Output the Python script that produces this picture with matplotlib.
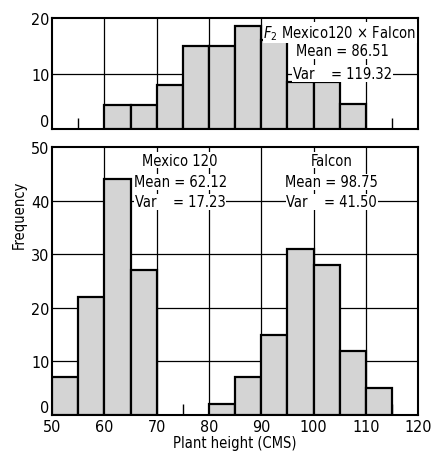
import numpy as np
import matplotlib
matplotlib.use('Agg')
import matplotlib.pyplot as plt

plt.rcParams['font.family'] = ['DejaVu Sans']
plt.rcParams['font.stretch'] = 'condensed'

# F2 Mexico 120 x Falcon
f2_edges = [60, 65, 70, 75, 80, 85, 90, 95, 100, 105, 110]
f2_counts = [4.3, 4.3, 8, 15, 15, 18.5, 16, 8.4, 8.4, 4.5]

# parents
mex_edges = [50, 55, 60, 65, 70]
mex_counts = [7, 22, 44, 27]
fal_edges = [80, 85, 90, 95, 100, 105, 110, 115]
fal_counts = [2, 7, 15, 31, 28, 12, 5]

bar_face = '#d4d4d4'
box = dict(facecolor='white', edgecolor='none', pad=0.5)
fs = 10.5


def draw_bars(ax, edges, counts):
    ax.bar(edges[:-1], counts, width=np.diff(edges), align='edge',
           color=bar_face, edgecolor='black', linewidth=1.6, zorder=3)


def style(ax):
    for s in ax.spines.values():
        s.set_linewidth(1.5)
    ax.set_xlim(50, 120)
    ax.set_xticks(np.arange(50, 121, 10))
    ax.set_xticks(np.arange(55, 120, 10), minor=True)
    ax.tick_params(axis='x', which='minor', direction='in', length=8, width=1)
    ax.tick_params(axis='x', which='major', direction='in', length=0)
    ax.tick_params(axis='y', direction='in', length=0, labelsize=fs + 1, pad=2)
    for v in [60, 70, 80, 90, 100, 110]:
        ax.axvline(v, color='black', lw=0.9, zorder=1)


fig = plt.figure(figsize=(4.35, 4.56), dpi=100)
ax1 = fig.add_axes([0.12, 0.715, 0.841, 0.243])
ax2 = fig.add_axes([0.12, 0.088, 0.841, 0.587])

# top panel
style(ax1)
ax1.set_ylim(0, 20)
ax1.set_yticks([0, 10, 20])
ax1.set_xticklabels([])
ax1.axhline(10, color='black', lw=0.9, zorder=1)
draw_bars(ax1, f2_edges, f2_counts)
ax1.text(105, 17.4, r'$F_2$ Mexico120 × Falcon', ha='center', va='center',
         fontsize=fs, bbox=box, zorder=5)
ax1.text(105.5, 14.2, 'Mean = 86.51', ha='center', va='center',
         fontsize=fs, bbox=box, zorder=5)
ax1.text(105.5, 10.0, 'Var    = 119.32', ha='center', va='center',
         fontsize=fs, bbox=box, zorder=5)

# bottom panel
style(ax2)
ax2.set_ylim(0, 50)
ax2.set_yticks([0, 10, 20, 30, 40, 50])
for v in [10, 20, 30, 40]:
    ax2.axhline(v, color='black', lw=0.9, zorder=1)
draw_bars(ax2, mex_edges, mex_counts)
draw_bars(ax2, fal_edges, fal_counts)
ax2.tick_params(axis='x', labelsize=fs + 1, pad=3)

# the zero labels sit a little above the baseline, as in the original
for ax in (ax1, ax2):
    ax.get_yticklabels()[0].set_va('bottom')

ax2.text(74.5, 47.6, 'Mexico 120', ha='center', va='center', fontsize=fs, bbox=box, zorder=5)
ax2.text(74.5, 43.5, 'Mean = 62.12', ha='center', va='center', fontsize=fs, bbox=box, zorder=5)
ax2.text(74.5, 39.8, 'Var    = 17.23', ha='center', va='center', fontsize=fs, bbox=box, zorder=5)
ax2.text(103.5, 47.6, 'Falcon', ha='center', va='center', fontsize=fs, bbox=box, zorder=5)
ax2.text(103.5, 43.5, 'Mean = 98.75', ha='center', va='center', fontsize=fs, bbox=box, zorder=5)
ax2.text(103.5, 39.8, 'Var    = 41.50', ha='center', va='center', fontsize=fs, bbox=box, zorder=5)

ax2.set_xlabel('Plant height (CMS)', fontsize=fs, labelpad=1)
fig.text(0.045, 0.53, 'Frequency', rotation=90, ha='center', va='center', fontsize=fs)

fig.savefig('out.png', dpi=100)
